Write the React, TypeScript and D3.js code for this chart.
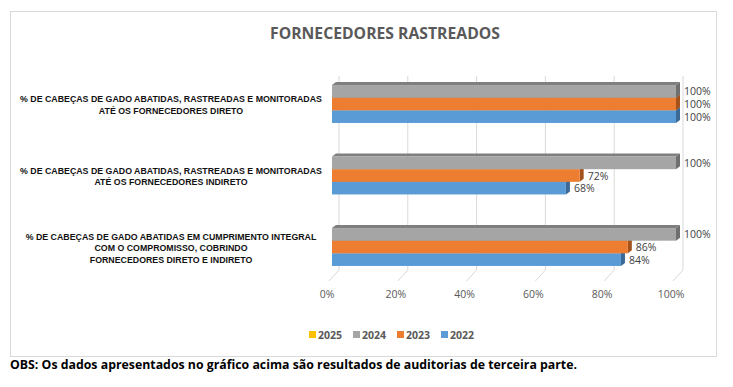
import React from 'react';
import * as d3 from 'd3';

const categories: string[][] = [
  ['% DE CABEÇAS DE GADO ABATIDAS, RASTREADAS E MONITORADAS', 'ATÉ OS FORNECEDORES DIRETO'],
  ['% DE CABEÇAS DE GADO ABATIDAS, RASTREADAS E MONITORADAS', 'ATÉ OS FORNECEDORES INDIRETO'],
  ['% DE CABEÇAS DE GADO ABATIDAS EM CUMPRIMENTO  INTEGRAL', 'COM O COMPROMISSO, COBRINDO', 'FORNECEDORES DIRETO E INDIRETO'],
];
const series: string[] = ['2025', '2024', '2023', '2022'];
const values2025: (number | null)[] = [null, null, null];
const values2024: (number | null)[] = [100, 100, 100];
const values2023: (number | null)[] = [100, 72, 86];
const values2022: (number | null)[] = [100, 68, 84];
const ticks: number[] = [0, 20, 40, 60, 80, 100];

const allValues = [values2025, values2024, values2023, values2022];
const colors: { [k: string]: string[] } = {
  '2025': ['#FFC000', '#BF9000', '#BF9000'],
  '2024': ['#A5A5A5', '#7F7F7F', '#6F6F6F'],
  '2023': ['#ED7D31', '#B65F25', '#A4521C'],
  '2022': ['#5B9BD5', '#4A7FB0', '#3C6A96'],
};

const W = 733;
const H = 387;
const dx = 4;
const dy = -3;

export default function App() {
  const x = d3.scaleLinear().domain([0, 100]).range([332, 676]);
  const catIdx = categories.map((c, i) => String(i));
  const y = d3.scaleBand().domain(catIdx).range([68.25, 282.75]).paddingInner(0.47).paddingOuter(0.235);
  const shown = series.filter((s, i) => allValues[i].some(v => v != null));
  const yInner = d3.scaleBand().domain(shown).range([0, y.bandwidth()]);

  const bars: any[] = [];
  categories.forEach((c, ci) => {
    // draw bottom bar first so top faces get covered by the bar above
    [...shown].reverse().forEach(s => {
      const v = allValues[series.indexOf(s)][ci];
      if (v == null) return;
      bars.push({ s, v, y0: (y(String(ci)) as number) + (yInner(s) as number), h: yInner.bandwidth() });
    });
  });

  return (
    <svg width={W} height={H} style={{ position: 'absolute', left: 0, top: 0 }}>
      <rect x={0} y={0} width={W} height={H} fill="#fff" />
      <rect x={10.5} y={11.5} width={706} height={345} fill="#fff" stroke="#D9D9D9" />
      <text x={385} y={39} textAnchor="middle" fontFamily="Open Sans" fontWeight="bold" fontSize={15.5} fill="#595959" textLength={230} lengthAdjust="spacingAndGlyphs">
        FORNECEDORES RASTREADOS
      </text>
      {ticks.map(t => (
        <polyline key={'g' + t} points={`${x(t) + 7},76 ${x(t) + 7},270 ${x(t) - 3},281`} fill="none" stroke="#D9D9D9" strokeWidth={1} />
      ))}
      {ticks.map(t => (
        <text key={'t' + t} x={x(t) - 5} y={298} textAnchor="middle" fontFamily="Open Sans" fontSize={10.5} fill="#595959">
          {t}%
        </text>
      ))}
      {bars.map((b, i) => {
        const x0 = x(0);
        const x1 = x(b.v);
        const c = colors[b.s];
        return (
          <g key={'b' + i}>
            <polygon points={`${x0},${b.y0} ${x0 + dx},${b.y0 + dy} ${x1 + dx},${b.y0 + dy} ${x1},${b.y0}`} fill={c[1]} />
            <polygon points={`${x1},${b.y0} ${x1 + dx},${b.y0 + dy} ${x1 + dx},${b.y0 + b.h + dy} ${x1},${b.y0 + b.h}`} fill={c[2]} />
            <rect x={x0} y={b.y0} width={x1 - x0} height={b.h} fill={c[0]} />
          </g>
        );
      })}
      {bars.map((b, i) => (
        <text key={'l' + i} x={x(b.v) + 8} y={b.y0 + b.h / 2 + 4} fontFamily="Open Sans" fontSize={10.5} fill="#404040">
          {b.v}%
        </text>
      ))}
      {categories.map((c, ci) => {
        const cy = (y(String(ci)) as number) + y.bandwidth() / 2;
        const lh = 11.5;
        const top = cy - ((c.length - 1) * lh) / 2;
        return (
          <text key={'c' + ci} textAnchor="middle" fontFamily="Liberation Sans" fontWeight="bold" fontSize={8.8} fill="#111">
            {c.map((line, li) => (
              <tspan key={li} x={171} y={top + li * lh + 4}>{line}</tspan>
            ))}
          </text>
        );
      })}
      {series.map((s, i) => {
        const lx = 312 + i * 44;
        return (
          <g key={'lg' + s}>
            <rect x={lx - 3} y={331} width={7} height={7} fill={colors[s][0]} />
            <text x={lx + 6} y={338.5} fontFamily="Open Sans" fontWeight="bold" fontSize={10.5} fill="#595959">{s}</text>
          </g>
        );
      })}
      <text x={10} y={369} fontFamily="Open Sans" fontWeight="bold" fontSize={12.5} fill="#000" textLength={567} lengthAdjust="spacingAndGlyphs">
        OBS: Os dados apresentados no gráfico acima são resultados de auditorias de terceira parte.
      </text>
    </svg>
  );
}
